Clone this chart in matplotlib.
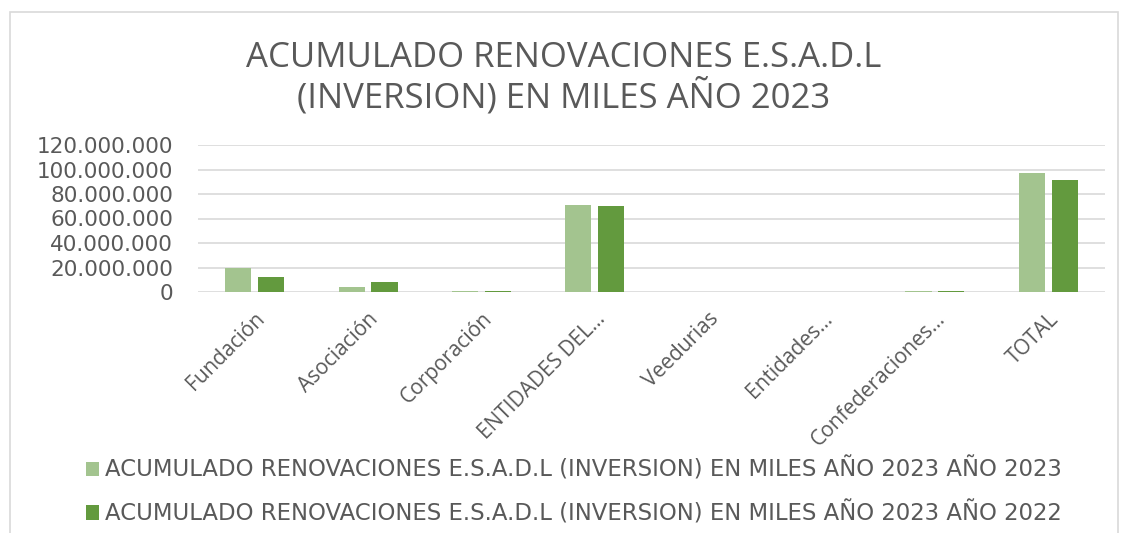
import numpy as np
import matplotlib.pyplot as plt
from matplotlib.patches import Rectangle
from matplotlib.ticker import FuncFormatter

categorias = ['Fundación', 'Asociación', 'Corporación', 'ENTIDADES DEL…',
              'Veedurias', 'Entidades…', 'Confederaciones…', 'TOTAL']
v2023 = [20.0e6, 4.1e6, 1.2e6, 71.3e6, 0.0, 0.0, 1.2e6, 97.2e6]
v2022 = [12.5e6, 7.9e6, 1.2e6, 70.5e6, 0.0, 0.0, 1.2e6, 91.5e6]
serie1 = 'ACUMULADO RENOVACIONES E.S.A.D.L (INVERSION) EN MILES AÑO 2023 AÑO 2023'
serie2 = 'ACUMULADO RENOVACIONES E.S.A.D.L (INVERSION) EN MILES AÑO 2023 AÑO 2022'

gris = '#595959'
fig = plt.figure(figsize=(11.28, 5.33), dpi=100)
ax = fig.add_axes([198/1128, 1-292/533, 907/1128, 147/533])

x = np.arange(len(categorias))
w = 0.23
ax.bar(x - 0.5*w - 0.03, v2023, w, color='#A3C48F', lw=0, label=serie1, zorder=3)
ax.bar(x + 0.5*w + 0.03, v2022, w, color='#639A3E', lw=0, label=serie2, zorder=3)

ax.set_xlim(-0.5, len(categorias)-0.5)
ax.set_ylim(0, 120e6)
ax.set_yticks(np.arange(0, 120e6+1, 20e6))
ax.yaxis.set_major_formatter(FuncFormatter(lambda v, p: f'{int(v):,}'.replace(',', '.')))
ax.grid(axis='y', color='#D9D9D9', lw=1.2, zorder=0)
for s in ax.spines.values():
    s.set_visible(False)
ax.tick_params(axis='both', length=0, colors=gris)
ax.tick_params(axis='y', labelsize=15.5, pad=18)
for t in ax.get_yticklabels():
    t.set_family('DejaVu Sans')
ax.set_xticks(x)
ax.set_xticklabels(categorias, rotation=45, ha='right', rotation_mode='anchor',
                   fontsize=15, color=gris, family='Open Sans')
ax.tick_params(axis='x', pad=12)

fig.text(0.5, 1-58/533, 'ACUMULADO RENOVACIONES E.S.A.D.L', ha='center', va='center',
         fontsize=25, color=gris, family='Open Sans')
fig.text(0.5, 1-97/533, '(INVERSION) EN MILES AÑO 2023', ha='center', va='center',
         fontsize=25, color=gris, family='Open Sans')

h, l = ax.get_legend_handles_labels()
fig.legend(h, l, loc='upper left', bbox_to_anchor=(65/1128, 1-437/533), frameon=False,
           ncol=1, handlelength=0.6, handleheight=0.6, handletextpad=0.25, labelspacing=0.85,
           prop={'family': 'DejaVu Sans', 'size': 16.4}, labelcolor=gris)

fig.add_artist(Rectangle((10/1128, -0.02), 1108/1128, 1-12/533+0.02, transform=fig.transFigure,
                         fill=False, edgecolor='#D9D9D9', lw=1.2))

fig.savefig('out.png', dpi=100, facecolor='white')
